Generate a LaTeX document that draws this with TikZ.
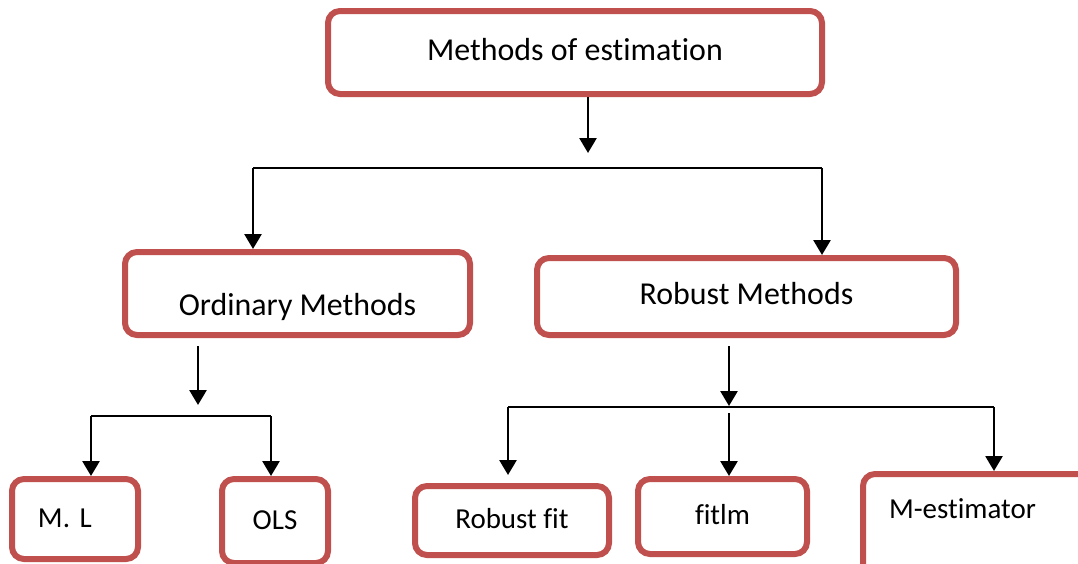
\documentclass[tikz,border=0pt]{standalone}
\usepackage{fontspec}
\setmainfont[Ligatures={NoCommon}]{Carlito}
\usetikzlibrary{arrows.meta}
\definecolor{boxred}{RGB}{192,80,77}
\frenchspacing

\begin{document}
\begin{tikzpicture}[
        box/.style={rectangle, rounded corners=0.3cm, draw=boxred, line width=0.15cm, fill=white,
            outer sep=0.075cm, inner sep=0pt, text height=0.55cm, text depth=0.15cm,
            font=\fontsize{22.7}{27}\selectfont},
        leaf/.style={box, text height=0.5cm, text depth=0.1cm, font=\fontsize{20.6}{25}\selectfont},
        arrow/.style={-{Triangle[width=0.42cm, length=0.37cm]}, line width=0.065cm},
        bar/.style={line width=0.055cm}
    ]

    \useasboundingbox (0,0) rectangle (26.95,-14.075);
    \clip (0,0) rectangle (26.95,-14.075);
    \fill[white] (0,0) rectangle (26.95,-14.075);

    % boxes
    \node[box, minimum width=12.35cm, minimum height=2.075cm] (est) at (14.375,-1.3125) {Methods of estimation};
    \node[box, minimum width=8.625cm, minimum height=2.075cm, text height=1.25cm] (ord) at (7.4375,-7.3375) {Ordinary Methods};
    \node[box, minimum width=10.475cm, minimum height=1.925cm] (rob) at (18.6625,-7.4125) {Robust Methods};
    \node[leaf, minimum width=3.15cm, minimum height=2cm, text width=1.85cm, align=left] (ml) at (1.875,-12.975) {M. L};
    \node[leaf, minimum width=2.65cm, minimum height=2.1cm] (ols) at (6.875,-13.025) {OLS};
    \node[leaf, minimum width=4.85cm, minimum height=1.725cm] (rfit) at (12.8,-13.0125) {Robust fit};
    \node[leaf, minimum width=4.225cm, minimum height=1.875cm] (fitlm) at (18.0625,-12.9125) {fitlm};
    \node[leaf, minimum width=5.725cm, minimum height=2.95cm, text width=4.425cm, align=left,
        text height=0cm, text depth=0.75cm] (mest) at (24.4375,-13.325) {M-estimator};

    % free ends and bars
    \coordinate (c1) at (14.7,-3.825);
    \coordinate (b1l) at (6.325,-4.2);
    \coordinate (b1r) at (20.55,-4.2);
    \coordinate (c2) at (4.95,-10.125);
    \coordinate (b2l) at (2.275,-10.4);
    \coordinate (b2r) at (6.775,-10.4);
    \coordinate (c3) at (18.225,-10.15);
    \coordinate (b3l) at (12.7,-10.175);
    \coordinate (b3r) at (24.85,-10.175);
    \coordinate (m3) at (18.225,-10.325);

    \draw[arrow] (est.south -| c1) -- (c1);
    \draw[bar] (b1l) -- (b1r);
    \draw[arrow] (b1l) -- (b1l |- ord.north);
    \draw[arrow] (b1r) -- (b1r |- rob.north);

    \draw[arrow, shorten <=0.2cm] (ord.south -| c2) -- (c2);
    \draw[bar] (b2l) -- (b2r);
    \draw[arrow] (b2l) -- (b2l |- ml.north);
    \draw[arrow] (b2r) -- (b2r |- ols.north);

    \draw[arrow, shorten <=0.2cm] (rob.south -| c3) -- (c3);
    \draw[bar] (b3l) -- (b3r);
    \draw[arrow, shorten >=0.2cm] (b3l) -- (b3l |- rfit.north);
    \draw[arrow] (m3) -- (m3 |- fitlm.north);
    \draw[arrow] (b3r) -- (b3r |- mest.north);

\end{tikzpicture}
\end{document}
